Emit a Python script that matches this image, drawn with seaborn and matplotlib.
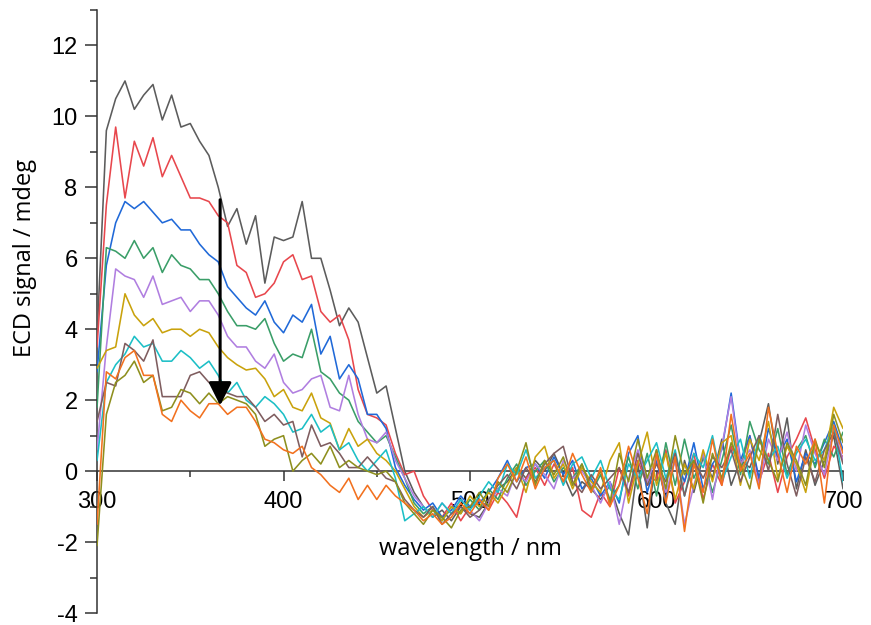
import pandas as pd
import seaborn as sns
import matplotlib.pyplot as plt
from matplotlib.ticker import MultipleLocator

# wavelength grid (nm)
wavelength = list(range(300, 701, 5))

# ECD spectra (mdeg), top trace first
gray = [3.8, 9.6, 10.5, 11.0, 10.2, 10.6, 10.9, 9.9, 10.6, 9.7,
        9.8, 9.3, 8.9, 8.0, 6.9, 7.4, 6.4, 7.2, 5.3, 6.6,
        6.5, 6.6, 7.6, 6.0, 6.0, 5.1, 4.1, 4.6, 4.2, 3.2,
        2.2, 2.4, 1.2, 0.0, -0.6, -1.0, -1.3, -1.1, -1.4, -1.0,
        -1.2, -1.3, -0.9, -0.5, -0.3, 0.1, -0.2, 0.3, 0.0, 0.5,
        -0.1, -0.7, -0.3, -0.5, -0.8, -0.4, -1.2, -1.8, 0.2, -1.6,
        0.6, -0.9, -1.5, 0.3, -0.6, 0.4, -0.2, 0.9, -0.4, 0.3,
        0.1, 0.8, 1.9, 0.2, 1.5, -0.5, 0.6, -0.4, 0.3, 1.0,
        -0.5]
red = [3.5, 7.5, 9.7, 7.7, 9.3, 8.6, 9.4, 8.3, 8.9, 8.3,
       7.7, 7.7, 7.6, 7.2, 7.0, 5.8, 5.6, 4.9, 5.0, 5.3,
       5.9, 6.1, 5.4, 5.5, 4.5, 4.2, 4.4, 3.7, 2.3, 1.6,
       1.5, 1.3, 0.5, -0.1, 0.0, -0.7, -1.1, -1.3, -0.9, -1.4,
       -1.0, -0.8, -1.1, -0.6, -0.9, -1.3, -0.2, 0.1, -0.4, 0.2,
       -0.3, 0.1, -1.1, -1.3, -0.6, -1.0, 0.1, -0.7, 0.3, -0.4,
       -0.2, 0.6, -0.9, -0.3, 0.5, -0.8, 0.2, -0.4, 0.7, 0.1,
       1.0, -0.3, 0.5, -0.6, 0.4, 0.9, 1.5, 0.6, -0.2, 0.7,
       0.4]
blue = [2.8, 5.8, 7.0, 7.6, 7.4, 7.6, 7.3, 7.0, 7.1, 6.8,
        6.8, 6.4, 6.1, 5.9, 5.2, 4.9, 4.6, 4.4, 4.8, 4.2,
        3.9, 4.4, 4.2, 4.7, 3.3, 3.8, 2.6, 3.0, 2.6, 1.6,
        1.6, 1.2, 0.1, -0.4, -0.8, -1.1, -0.9, -1.3, -1.1, -0.7,
        -1.0, -0.9, -0.6, -0.2, 0.3, -0.3, 0.1, 0.2, -0.2, 0.4,
        -0.1, 0.3, -0.5, -0.2, -0.7, -0.3, -0.9, 0.5, 1.0, -0.6,
        0.3, -0.8, 0.4, -0.3, 0.8, -0.5, 0.2, 0.6, 2.2, 0.3,
        1.0, -0.2, 1.2, 0.4, 0.9, -0.3, 0.5, 0.2, 0.8, 1.4,
        0.6]
green = [1.8, 6.3, 6.2, 6.0, 6.5, 6.0, 6.3, 5.6, 6.1, 5.8,
         5.7, 5.4, 5.4, 5.0, 4.5, 4.1, 4.1, 4.0, 4.3, 3.6,
         3.1, 3.3, 3.2, 4.0, 2.8, 2.6, 2.2, 2.0, 1.4, 1.1,
         0.8, 1.0, 0.4, -0.2, -0.9, -1.2, -1.0, -1.4, -1.0, -1.2,
         -0.8, -1.1, -0.5, -0.8, -0.2, 0.2, -0.4, 0.0, 0.3, -0.3,
         0.1, -0.2, 0.2, -0.6, -0.1, -0.8, -0.4, 0.4, -0.5, 0.5,
         -0.7, 0.8, -0.4, 0.9, -0.2, 0.4, -0.6, 0.3, 1.3, -0.1,
         1.4, 0.6, 0.2, 1.2, -0.1, 0.6, 1.0, 0.1, 0.9, 0.4,
         1.1]
purple = [0.6, 3.5, 5.7, 5.5, 5.4, 4.9, 5.5, 4.7, 4.8, 4.9,
          4.5, 4.8, 4.8, 4.4, 3.8, 3.5, 3.5, 3.1, 2.9, 3.3,
          2.5, 2.2, 2.3, 2.6, 2.7, 1.8, 1.7, 2.7, 1.6, 0.9,
          0.8, 1.1, 0.3, -0.2, -0.7, -1.0, -1.3, -0.9, -1.2, -0.8,
          -1.1, -1.4, -0.9, -0.5, -0.7, 0.0, -0.3, 0.2, -0.1, -0.5,
          0.3, -0.2, 0.0, -0.4, -0.9, -0.3, -1.5, -0.2, 0.6, -0.3,
          0.4, -0.6, 0.3, -1.5, -0.4, 0.5, -0.8, 0.7, 2.1, 0.2,
          0.6, -0.4, 0.9, 0.3, 1.1, 0.0, 1.3, 0.5, -0.1, 1.2,
          0.3]
gold = [2.9, 3.4, 3.5, 5.0, 4.4, 4.1, 4.3, 3.9, 4.0, 4.0,
        3.8, 4.0, 3.9, 3.5, 3.2, 3.0, 2.85, 2.9, 2.6, 2.1,
        2.3, 1.8, 1.7, 2.2, 1.5, 1.35, 0.6, 1.2, 0.7, 0.9,
        0.5, 0.3, 0.0, -0.5, -1.0, -1.3, -1.1, -1.4, -1.0, -1.2,
        -0.7, -1.0, -0.6, -0.9, -0.4, 0.1, -0.6, 0.4, 0.7, -0.2,
        0.2, -0.5, 0.1, -0.3, -0.6, 0.3, 0.8, -0.9, 0.2, 1.1,
        -0.4, 0.5, -0.8, 0.2, -0.5, 0.6, -0.3, 0.8, 1.0, -0.4,
        0.9, 0.3, 1.4, -0.2, 0.7, 0.2, -0.6, 0.8, 0.3, 1.8,
        1.2]
cyan = [0.3, 2.5, 3.0, 3.3, 3.8, 3.5, 3.6, 3.1, 3.1, 3.4,
        3.2, 2.9, 3.1, 2.7, 2.2, 2.5, 2.0, 1.8, 2.1, 1.9,
        1.6, 1.1, 1.2, 1.6, 1.1, 1.3, 0.6, 0.8, 0.3, 0.0,
        0.3, 0.6, -0.2, -1.4, -1.2, -1.0, -1.3, -0.9, -1.2, -0.8,
        -1.1, -0.7, -0.3, -0.6, 0.2, -0.1, 0.6, -0.2, 0.1, 0.3,
        -0.4, 0.2, 0.4, -0.2, 0.3, -0.5, -0.8, 0.2, -0.2, 0.3,
        0.8, -0.2, 0.6, -0.7, 0.5, 0.1, 1.0, -0.3, 0.4, 0.9,
        -0.2, 1.0, 0.3, 0.7, -0.2, 0.5, 0.9, 0.3, 0.6, 1.3,
        -0.3]
brown = [1.4, 2.5, 2.4, 3.6, 3.4, 3.1, 3.7, 2.1, 2.1, 2.1,
         2.7, 2.8, 2.5, 2.3, 2.2, 2.1, 2.1, 1.8, 1.4, 1.6,
         1.3, 1.4, 0.4, 1.3, 0.7, 0.8, 0.5, 0.1, 0.1, 0.4,
         0.1, -0.2, -0.3, -0.8, -1.1, -1.3, -1.0, -1.5, -1.2, -1.0,
         -1.3, -1.1, -0.8, -0.4, -0.1, -0.5, 0.1, -0.3, 0.2, 0.5,
         0.7, -0.3, -0.6, -0.1, -0.5, -0.2, 0.1, -0.6, 0.5, -0.4,
         0.2, -0.3, 0.5, -0.7, 0.3, -0.2, 0.4, 0.1, 0.6, -0.3,
         0.4, 1.0, 0.0, 1.6, 0.2, -0.7, 0.4, -0.3, 0.6, 1.1,
         0.2]
olive = [-2.1, 1.6, 2.5, 2.7, 3.1, 2.5, 2.7, 1.7, 1.8, 2.3,
         2.2, 1.9, 2.2, 1.9, 2.1, 2.0, 1.9, 1.6, 0.7, 0.9,
         1.0, 0.0, 0.3, 0.5, 0.2, 0.7, 0.1, 0.3, 0.1, 0.0,
         -0.1, 0.0, -0.3, -0.9, -1.2, -1.5, -1.1, -1.3, -1.6, -1.1,
         -1.0, -0.6, -1.0, -0.3, -0.6, 0.0, 0.8, -0.4, 0.3, -0.1,
         0.4, -0.4, 0.2, -0.5, 0.0, -0.9, 0.5, -0.3, 0.9, -0.2,
         0.6, -0.5, 1.0, -0.1, 0.3, -0.9, 0.5, -0.2, 0.8, 0.2,
         -0.5, 0.9, 0.3, -0.3, 0.8, 0.3, -0.4, 0.9, 0.1, 1.6,
         0.8]
orange = [-1.5, 2.8, 2.6, 3.2, 3.4, 2.7, 2.7, 1.6, 1.4, 2.0,
          1.7, 1.5, 1.9, 1.9, 1.6, 1.8, 1.8, 1.4, 0.9, 0.8,
          0.6, 0.5, 0.7, 0.1, -0.1, -0.4, -0.6, -0.2, -0.8, -0.4,
          -0.8, -0.4, -0.7, -0.9, -1.1, -1.4, -1.2, -1.5, -1.3, -0.9,
          -1.2, -0.8, -1.1, -0.2, 0.2, -0.3, 0.4, -0.5, 0.1, 0.3,
          -0.3, 0.5, -0.1, -0.6, 0.1, -1.0, -0.4, 0.7, -0.2, -1.2,
          0.5, -0.9, 0.4, -1.7, 0.2, -0.6, 0.9, -0.4, 1.6, 0.0,
          0.5, -0.5, 1.8, 0.5, -0.6, 0.7, 0.2, 0.9, -0.9, 1.3,
          0.5]

series = {"gray": gray, "red": red, "blue": blue, "green": green,
          "purple": purple, "gold": gold, "cyan": cyan, "brown": brown,
          "olive": olive, "orange": orange}
colors = {"gray": "#5c5c5c", "red": "#e8474d", "blue": "#2069d8",
          "green": "#3a9e68", "purple": "#b07ee0", "gold": "#c9a20c",
          "cyan": "#1cbfc6", "brown": "#7f5d5f", "olive": "#8e8f1e",
          "orange": "#f2711f"}

df = pd.concat([pd.DataFrame({"wavelength": wavelength, "signal": v, "trace": k})
                for k, v in series.items()], ignore_index=True)

sns.set_style("ticks")
plt.rcParams['font.family'] = ['Liberation Sans', 'DejaVu Sans']
plt.rcParams['axes.unicode_minus'] = False
plt.rcParams['text.color'] = 'black'
plt.rcParams['axes.labelcolor'] = 'black'
plt.rcParams['xtick.labelcolor'] = 'black'
plt.rcParams['ytick.labelcolor'] = 'black'

fig, ax = plt.subplots(figsize=(8.71, 6.25), dpi=100)
ax.set_position([0.1114, 0.0192, 0.8565, 0.9648])

sns.lineplot(data=df, x="wavelength", y="signal", hue="trace", hue_order=list(series),
             palette=colors, estimator=None, sort=False, linewidth=1.15,
             legend=False, ax=ax, zorder=3)

# arrow showing the decrease
ax.annotate("", xy=(366, 1.85), xytext=(366, 7.65),
            arrowprops=dict(arrowstyle="-|>,head_length=0.5,head_width=0.25",
                            mutation_scale=28, color="black", lw=2.2,
                            shrinkA=0, shrinkB=0), zorder=5)

ax.set_xlim(300, 700)
ax.set_ylim(-4, 13)
ax.spines['top'].set_visible(False)
ax.spines['right'].set_visible(False)
ax.spines['bottom'].set_position(('data', 0))
for s in ('left', 'bottom'):
    ax.spines[s].set_color('#333333')
    ax.spines[s].set_linewidth(1.1)

ax.xaxis.set_major_locator(MultipleLocator(100))
ax.xaxis.set_minor_locator(MultipleLocator(50))
ax.yaxis.set_major_locator(MultipleLocator(2))
ax.yaxis.set_minor_locator(MultipleLocator(1))
ax.tick_params(axis='x', which='major', direction='out', length=7, width=1.1,
               color='#333333', labelsize=17, labelcolor='black', pad=7)
ax.tick_params(axis='x', which='minor', direction='out', length=4, width=1.1, color='#333333')
ax.tick_params(axis='y', which='major', direction='out', length=9, width=1.1,
               color='#333333', labelsize=17, labelcolor='black', pad=5)
ax.tick_params(axis='y', which='minor', direction='out', length=5, width=1.1, color='#333333')
ax.set_axisbelow(True)

ax.set_xlabel("wavelength / nm", fontfamily="Open Sans", fontsize=17, color='black')
ax.xaxis.set_label_coords(0.5, 0.106)
ax.xaxis.label.set_va('center')
ax.set_ylabel("ECD signal / mdeg", fontfamily="Open Sans", fontsize=17, color='black')
ax.yaxis.set_label_coords(-0.0965, 0.588)
ax.yaxis.label.set_va('center')

fig.savefig("out.png", dpi=100)
